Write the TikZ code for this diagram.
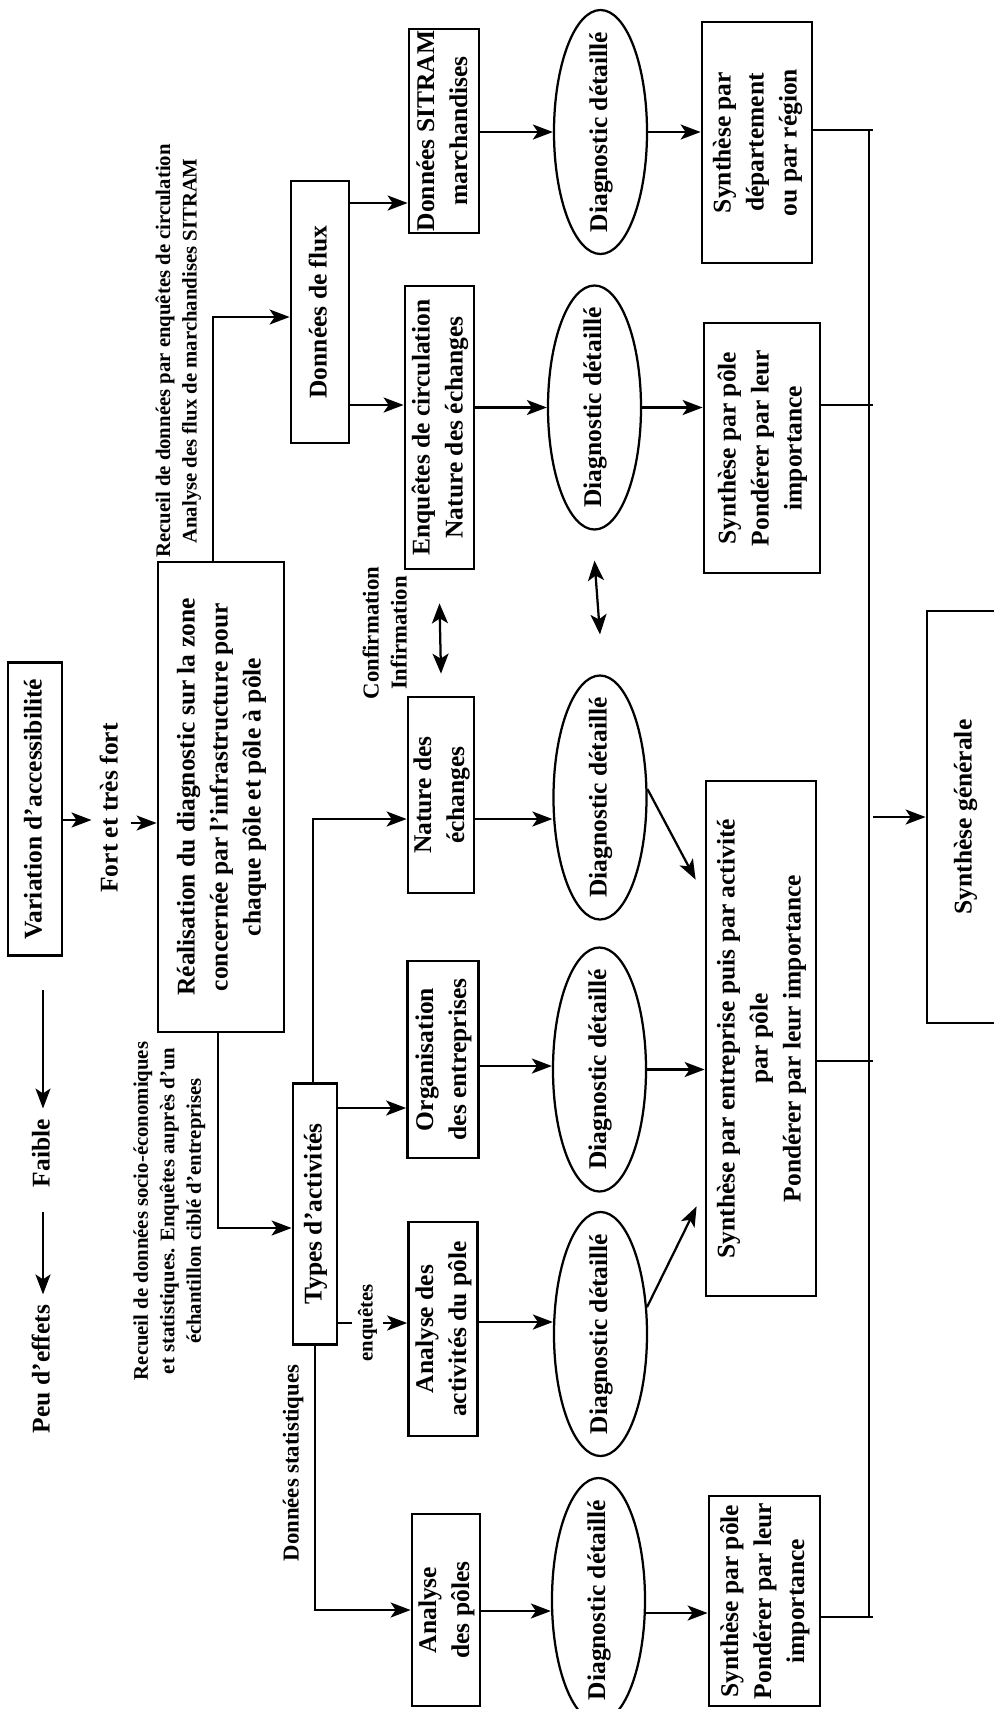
\documentclass[tikz,border=0pt]{standalone}
\usepackage{fontspec}
\usepackage{graphicx}
\setmainfont{Liberation Serif}
\usetikzlibrary{arrows.meta,shapes.geometric}
\newcommand{\rt}[1]{\rotatebox{90}{\begin{tabular}{@{}c@{}}#1\end{tabular}}}
\newcommand{\bigtxt}{\bfseries\fontsize{10.2}{13.2}\selectfont}
\newcommand{\midtxt}{\bfseries\fontsize{9.1}{11.2}\selectfont}
\newcommand{\lbltxt}{\bfseries\fontsize{8.3}{10.6}\selectfont}
\tikzset{
  box/.style={draw,line width=1.1pt,inner sep=0pt,font=\bigtxt},
  diag/.style={draw,ellipse,line width=0.9pt,inner xsep=0pt,inner ysep=-6pt,
    minimum width=37.2pt,minimum height=97.6pt,font=\bigtxt},
  txt/.style={inner xsep=1pt,inner ysep=4pt,font=\bigtxt},
  lbl/.style={inner sep=1pt,font=\lbltxt},
  arr/.style={line width=0.9pt,-{Stealth[length=8pt,width=6pt,inset=2pt]}},
  both/.style={line width=0.9pt,{Stealth[length=8pt,width=6.4pt,inset=2pt]}-{Stealth[length=8pt,width=6.4pt,inset=2pt]}},
  wire/.style={line width=0.9pt}
}
\begin{document}
\begin{tikzpicture}[x=0.4pt,y=-0.4pt]
\useasboundingbox (0,0) rectangle (994,1709);
%
\node[box,minimum width=21.6pt,minimum height=117.2pt] (var) at (35,809) {\rt{Variation d'accessibilité}};
\node[txt] (fort) at (111,808) {\rt{Fort et très fort}};
\node[txt] (faible) at (43,1153) {\rt{Faible}};
\node[txt] (peu) at (43,1369) {\rt{Peu d'effets}};
\node[box,minimum width=50.4pt,minimum height=188pt] (big) at (221,797) {\rt{Réalisation du diagnostic sur la zone\\concernée par l'infrastructure pour\\chaque pôle et pôle à pôle}};
\node[lbl] (flowlbl) at (178,351) {\rt{Recueil de données par enquêtes de circulation\\Analyse des flux de marchandises SITRAM}};
\node[lbl] (socilbl) at (169,1211) {\rt{Recueil de données socio-économiques\\et statistiques. Enquêtes auprès d'un\\échantillon ciblé d'entreprises}};
%
\node[box,minimum width=23.2pt,minimum height=104.8pt] (flux) at (320,312) {\rt{Données de flux}};
\node[box,inner xsep=0.8pt,minimum width=28pt,minimum height=81.6pt] (sitram) at (444,131) {\rt{Données SITRAM\\marchandises}};
\node[box,minimum width=27.6pt,minimum height=113.2pt] (enq) at (439.5,427.5) {\rt{Enquêtes de circulation\\Nature des échanges}};
\node[box,minimum width=17.6pt,minimum height=104.4pt] (types) at (315,1214) {\rt{Types d'activités}};
\node[box,minimum width=26pt,minimum height=78.4pt] (nature) at (441,795) {\rt{Nature des\\échanges}};
\node[box,minimum width=28.4pt,minimum height=78.8pt] (org) at (443,1059.5) {\rt{Organisation\\des entreprises}};
\node[box,minimum width=27.6pt,minimum height=85.6pt] (act) at (443,1329) {\rt{Analyse des\\activités du pôle}};
\node[box,minimum width=27.2pt,minimum height=76.8pt] (apoles) at (446,1610) {\rt{Analyse\\des pôles}};
\node[lbl,font=\midtxt] (conflbl) at (387,633) {\rt{Confirmation\\Infirmation}};
\node[lbl,font=\midtxt] (statlbl) at (293,1463) {\rt{Données statistiques}};
%
\node[diag] (e1) at (600.5,132) {\rt{Diagnostic détaillé}};
\node[diag] (e2) at (594.5,407.5) {\rt{Diagnostic détaillé}};
\node[diag] (e3) at (600,797.5) {\rt{Diagnostic détaillé}};
\node[diag] (e4) at (599.5,1069.5) {\rt{Diagnostic détaillé}};
\node[diag] (e5) at (600.5,1334) {\rt{Diagnostic détaillé}};
\node[diag] (e6) at (598.5,1600) {\rt{Diagnostic détaillé}};
%
\node[box,minimum width=44pt,minimum height=96.4pt] (dept) at (757,142.5) {\rt{Synthèse par\\département\\ou par région}};
\node[box,minimum width=46.4pt,minimum height=100pt] (pole1) at (762,448) {\rt{Synthèse par pôle\\Pondérer par leur\\importance}};
\node[box,minimum width=44pt,minimum height=206pt] (synth) at (761,1038.5) {\rt{Synthèse par entreprise puis par activité\\par pôle\\Pondérer par leur importance}};
\node[box,minimum width=44.4pt,minimum height=84pt] (pole2) at (764.5,1601) {\rt{Synthèse par pôle\\Pondérer par leur\\importance}};
\node[box,minimum width=30.4pt,minimum height=164.8pt] (gen) at (965,817) {\rt{Synthèse générale}};
%
\draw[arr] (var.east |- 0,820) -- (fort.west |- 0,820);
\draw[arr] (fort.east |- 0,823) -- (big.west |- 0,823);
\draw[arr] (faible.north |- 0,990) -- (faible.north);
\draw[arr] (peu.north |- 0,1212) -- (peu.north);
%
\draw[arr] (big.north -| 213,0) |- (flux.west |- 0,317);
\draw[arr] (flux.east |- 0,203) -- (sitram.west |- 0,203);
\draw[arr] (flux.east |- 0,405) -- (enq.west |- 0,405);
\draw[arr] (sitram.east |- e1.west) -- (e1.west);
\draw[arr] (enq.east |- e2.west) -- (e2.west);
\draw[arr] (e1.east) -- (dept.west |- e1.east);
\draw[arr] (e2.east) -- (pole1.west |- e2.east);
%
\draw[arr] (big.south -| 218,0) |- (types.west |- 0,1228);
\draw[arr] (types.north -| 313,0) |- (nature.west |- 0,819);
\draw[arr] (types.east |- 0,1108) -- (org.west |- 0,1108);
\draw[arr] (types.east |- 0,1323) -- node[lbl,fill=white,pos=0.42]{\rt{enquêtes}} (act.west |- 0,1323);
\draw[arr] (types.south) |- (apoles.west);
%
\draw[arr] (nature.east |- 0,819) -- (e3.west |- 0,819);
\draw[arr] (org.east |- 0,1066) -- (e4.west |- 0,1066);
\draw[arr] (act.east |- 0,1322) -- (e5.west |- 0,1322);
\draw[arr] (apoles.east |- 0,1611) -- (e6.west |- 0,1611);
\draw[arr] (e3.10) -- ([shift={(-9,100)}]synth.north west);
\draw[arr] (e4.east) -- (synth.west |- e4.east);
\draw[arr] (e5.30) -- ([shift={(-8,-91)}]synth.south west);
\draw[arr] (e6.east |- 0,1613) -- (pole2.west |- 0,1613);
%
\draw[both] ([yshift=-13.2pt]enq.south) -- ([yshift=8.8pt]nature.north);
\draw[both] ([yshift=-12pt]e2.south) -- ([yshift=16pt]e3.north);
%
\coordinate (bus) at (869,0);
\coordinate (busr) at (873,0);
\draw[wire] (bus |- 0,130) -- (bus |- 0,1617);
\draw[wire] (dept.east |- 0,130) -- (busr |- 0,130);
\draw[wire] (pole1.east |- 0,405) -- (busr |- 0,405);
\draw[wire] (synth.east |- 0,1061) -- (busr |- 0,1061);
\draw[wire] (pole2.east |- 0,1617) -- (busr |- 0,1617);
\draw[arr] (busr |- gen.west) -- (gen.west);
\end{tikzpicture}
\end{document}
